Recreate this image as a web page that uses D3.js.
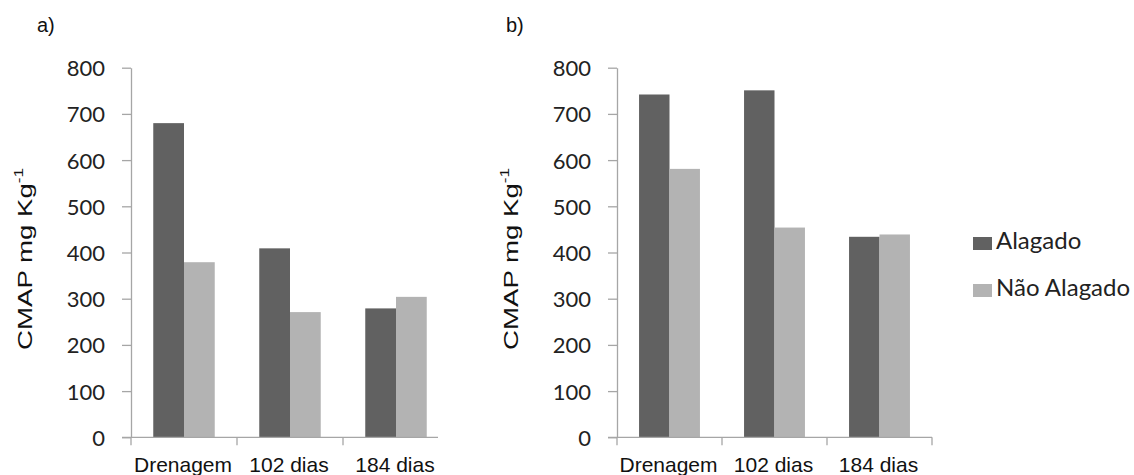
<!DOCTYPE html>
<html>
<head>
<meta charset="utf-8">
<script src="https://cdn.jsdelivr.net/npm/d3@7"></script>
<style>
  body { margin: 0; background: #fff; }
  svg { display: block; }
</style>
</head>
<body>
<div id="graphic"></div>
<script>
const WIDTH = 1134;
const HEIGHT = 475;
const CATEGORIES = ["Drenagem", "102 dias", "184 dias"];
const SERIES = ["Alagado", "Não Alagado"];
const COLORS = ["#616161", "#b3b3b3"];
const Y_TICKS = [0, 100, 200, 300, 400, 500, 600, 700, 800];
const ALAGADO_A = [680, 409, 279];
const NAO_ALAGADO_A = [379, 271, 304];
const ALAGADO_B = [742, 751, 434];
const NAO_ALAGADO_B = [581, 454, 439];
const Y_TITLE = "CMAP mg Kg";
const Y_TOP = 67.7;
const Y_BOTTOM = 437.3;
const AXIS_COLOR = "#a6a6a6";

var svg = d3.select("#graphic")
  .append("svg")
  .attr("width", WIDTH)
  .attr("height", HEIGHT);

function renderPanel(opts) {
  var g = svg.append("g");

  if (opts.background) {
    g.append("rect")
      .attr("x", opts.bgX)
      .attr("y", 0)
      .attr("width", WIDTH - opts.bgX)
      .attr("height", HEIGHT)
      .attr("fill", "#fff");
  }

  var yScale = d3.scaleLinear()
    .domain([0, 800])
    .range([Y_BOTTOM, Y_TOP]);

  var xScale = d3.scaleBand()
    .domain(CATEGORIES)
    .range([opts.x0, opts.x1])
    .paddingInner(0.42)
    .paddingOuter(0.21);

  var inner = d3.scaleBand()
    .domain(SERIES)
    .range([0, xScale.bandwidth()]);

  var rows = CATEGORIES.map((c, i) => ({
    category: c,
    values: [opts.alagado[i], opts.naoAlagado[i]]
  }));

  // bars
  g.selectAll("g.group")
    .data(rows)
    .enter()
    .append("g")
    .attr("class", "group")
    .attr("transform", d => `translate(${xScale(d.category)},0)`)
    .selectAll("rect")
    .data(d => d.values.map((v, j) => ({ series: SERIES[j], value: v, j: j })))
    .enter()
    .append("rect")
    .attr("x", d => inner(d.series))
    .attr("y", d => yScale(d.value))
    .attr("width", inner.bandwidth())
    .attr("height", d => Y_BOTTOM - yScale(d.value))
    .attr("fill", d => COLORS[d.j]);

  // y axis
  var yAxis = g.append("g")
    .attr("transform", `translate(${opts.x0},0)`)
    .call(d3.axisLeft(yScale).tickValues(Y_TICKS).tickSize(9).tickPadding(17).tickSizeOuter(0));
  yAxis.select(".domain").attr("stroke", AXIS_COLOR).attr("stroke-width", 1.3);
  yAxis.selectAll(".tick line").attr("stroke", AXIS_COLOR).attr("stroke-width", 1.3);
  yAxis.selectAll(".tick text")
    .attr("font-family", "Lato, 'Open Sans', sans-serif")
    .attr("font-size", 22)
    .attr("fill", "#222")
    .attr("dy", "0.36em");

  // x axis line with category boundary ticks
  var xEnd = opts.clipX ? Math.min(opts.x1, opts.clipX) : opts.x1;
  g.append("line")
    .attr("x1", opts.x0 - 9)
    .attr("x2", xEnd)
    .attr("y1", Y_BOTTOM)
    .attr("y2", Y_BOTTOM)
    .attr("stroke", AXIS_COLOR)
    .attr("stroke-width", 1.3);

  var boundaries = CATEGORIES.map(c => xScale(c) - xScale.step() * xScale.paddingOuter())
    .concat([opts.x1])
    .filter(x => !opts.clipX || x < opts.clipX);
  g.selectAll("line.xtick")
    .data(boundaries)
    .enter()
    .append("line")
    .attr("class", "xtick")
    .attr("x1", d => d)
    .attr("x2", d => d)
    .attr("y1", Y_BOTTOM)
    .attr("y2", Y_BOTTOM + 8)
    .attr("stroke", AXIS_COLOR)
    .attr("stroke-width", 1.3);

  g.selectAll("text.xlabel")
    .data(CATEGORIES)
    .enter()
    .append("text")
    .attr("class", "xlabel")
    .attr("x", d => xScale(d) + xScale.bandwidth() / 2 - 1)
    .attr("y", 471.5)
    .attr("text-anchor", "middle")
    .attr("font-family", "'Liberation Sans', Arial, sans-serif")
    .attr("font-size", 21)
    .attr("fill", "#111")
    .text(d => d);

  // y title, stretched along its length like the original picture
  var title = g.append("text")
    .attr("font-family", "'Liberation Sans', Arial, sans-serif")
    .attr("font-size", 21)
    .attr("fill", "#111")
    .attr("text-anchor", "middle");
  title.append("tspan").text(Y_TITLE);
  title.append("tspan")
    .attr("font-size", 13)
    .attr("dy", -9)
    .text("-1");
  var len = title.node().getComputedTextLength();
  var sx = 182 / len;
  title.attr("transform", `translate(${opts.x0 - 99.5},259) rotate(-90) scale(${sx},1)`);

  // panel letter
  g.append("text")
    .attr("x", opts.letterX)
    .attr("y", 32)
    .attr("font-family", "'Liberation Sans', Arial, sans-serif")
    .attr("font-size", 20)
    .attr("fill", "#111")
    .text(opts.letter);
}

renderPanel({
  x0: 131, x1: 449, clipX: 438,
  alagado: ALAGADO_A, naoAlagado: NAO_ALAGADO_A,
  letter: "a)", letterX: 37
});

renderPanel({
  x0: 617, x1: 932,
  background: true, bgX: 438,
  alagado: ALAGADO_B, naoAlagado: NAO_ALAGADO_B,
  letter: "b)", letterX: 506
});

// legend
var legend = svg.append("g")
  .selectAll("g")
  .data(SERIES)
  .enter()
  .append("g")
  .attr("transform", (d, i) => `translate(973,${237 + i * 47})`);

legend.append("rect")
  .attr("width", 19)
  .attr("height", 13)
  .attr("fill", (d, i) => COLORS[i]);

legend.append("text")
  .attr("x", 23)
  .attr("y", 12)
  .attr("font-family", "Lato, 'Open Sans', sans-serif")
  .attr("font-size", 24)
  .attr("fill", "#222")
  .text(d => d);
</script>
</body>
</html>
